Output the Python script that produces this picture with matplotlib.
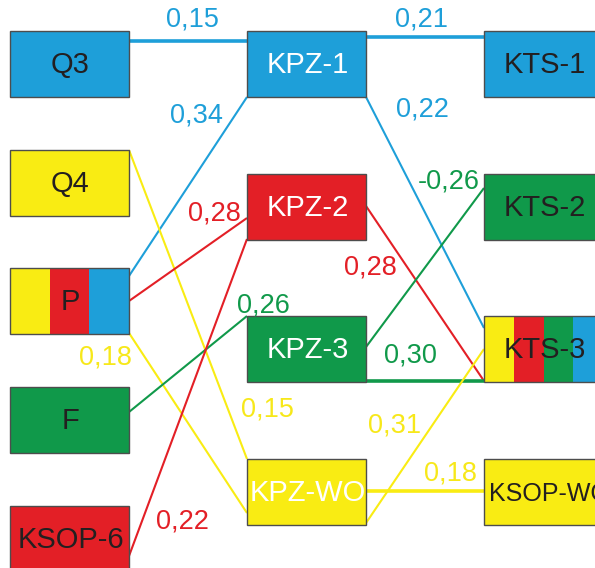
import matplotlib
matplotlib.use("Agg")
import matplotlib.pyplot as plt
from matplotlib.patches import Rectangle

# ---------------- data ----------------
node_names = ["Q3", "Q4", "P", "F", "KSOP-6",
              "KPZ-1", "KPZ-2", "KPZ-3", "KPZ-WO",
              "KTS-1", "KTS-2", "KTS-3", "KSOP-WO"]
node_fill = ["blue", "yellow", ["yellow", "red", "blue"], "green", "red",
             "blue", "red", "green", "yellow",
             "blue", "green", ["yellow", "red", "green", "blue"], "yellow"]
node_text_color = ["dark", "dark", "dark", "dark", "dark",
                   "white", "white", "white", "white",
                   "dark", "dark", "dark", "dark"]

edge_source = ["Q3", "P", "Q4", "P", "P", "F", "KSOP-6",
               "KPZ-1", "KPZ-1", "KPZ-2", "KPZ-3", "KPZ-3", "KPZ-WO", "KPZ-WO"]
edge_target = ["KPZ-1", "KPZ-1", "KPZ-WO", "KPZ-2", "KPZ-WO", "KPZ-3", "KPZ-2",
               "KTS-1", "KTS-3", "KTS-3", "KTS-2", "KTS-3", "KTS-3", "KSOP-WO"]
edge_values = ["0,15", "0,34", "0,15", "0,28", "0,18", "0,26", "0,22",
               "0,21", "0,22", "0,28", "-0,26", "0,30", "0,31", "0,18"]
edge_color = ["blue", "blue", "yellow", "red", "yellow", "green", "red",
              "blue", "blue", "red", "green", "green", "yellow", "yellow"]

# ---------------- layout / style ----------------
palette = {"blue": "#1e9fd9", "red": "#e31f26", "green": "#10994a",
           "yellow": "#f9ec13", "dark": "#231f20", "white": "#ffffff"}
label_palette = {"blue": "#1e9fd9", "red": "#e31f26", "green": "#10994a",
                 "yellow": "#f7e81a"}

col_x = {0: 10, 1: 247, 2: 484}
box_w, box_h = 119, 66
node_pos = {  # (column, top y)
    "Q3": (0, 31), "Q4": (0, 150), "P": (0, 268), "F": (0, 387), "KSOP-6": (0, 506),
    "KPZ-1": (1, 31), "KPZ-2": (1, 174), "KPZ-3": (1, 316), "KPZ-WO": (1, 459),
    "KTS-1": (2, 31), "KTS-2": (2, 174), "KTS-3": (2, 316), "KSOP-WO": (2, 459),
}
# anchor offsets (source dy from box top, target dy from box top)
edge_anchor = [(10, 10), (8, 66), (0, 0), (33, 44), (65, 54), (25, 0), (50, 65),
               (6, 6), (66, 12), (32, 65), (31, 14), (65, 65), (64, 33), (32, 32)]
thick_edges = {0, 7, 11, 13}
label_pos = [(192, 20), (196, 116), (267, 410), (214, 213), (105, 357), (263, 305),
             (182, 522), (421, 20), (422, 110), (370, 268), (449, 182), (410, 356),
             (395, 425), (450, 473)]

fig = plt.figure(figsize=(5.95, 5.68), dpi=100)
ax = fig.add_axes([0, 0, 1, 1])
ax.set_xlim(0, 595)
ax.set_ylim(568, 0)
ax.set_axis_off()

font = "Liberation Sans"

# edges
for i, (s, t) in enumerate(zip(edge_source, edge_target)):
    sc, sy = node_pos[s]
    tc, ty = node_pos[t]
    x0 = col_x[sc] + box_w
    x1 = col_x[tc]
    y0 = sy + edge_anchor[i][0]
    y1 = ty + edge_anchor[i][1]
    lw = 2.6 if i in thick_edges else 1.5
    ax.plot([x0, x1], [y0, y1], color=palette[edge_color[i]], lw=lw,
            solid_capstyle="butt", zorder=1)
    lx, ly = label_pos[i]
    ax.text(lx, ly, edge_values[i], color=label_palette[edge_color[i]],
            fontsize=19.5, family=font, ha="center", va="center", zorder=3)

# nodes
for name, fill, tc in zip(node_names, node_fill, node_text_color):
    c, y = node_pos[name]
    x = col_x[c]
    if isinstance(fill, list):
        n = len(fill)
        sw = box_w / n
        for k, f in enumerate(fill):
            ax.add_patch(Rectangle((x + k * sw, y), sw, box_h, facecolor=palette[f],
                                   edgecolor="none", zorder=2))
        ax.add_patch(Rectangle((x, y), box_w, box_h, facecolor="none",
                               edgecolor="#4d4d4d", lw=1.0, zorder=2.5))
    else:
        ax.add_patch(Rectangle((x, y), box_w, box_h, facecolor=palette[fill],
                               edgecolor="#4d4d4d", lw=1.0, zorder=2))
    if name == "KSOP-WO":
        ax.text(x + 5, y + box_h / 2 + 2, name, color=palette[tc], fontsize=18,
                family=font, ha="left", va="center", zorder=3)
    else:
        ax.text(x + box_w / 2 + 1, y + box_h / 2 + 1, name, color=palette[tc],
                fontsize=21, family=font, ha="center", va="center", zorder=3)

fig.savefig("out.png", dpi=100)
